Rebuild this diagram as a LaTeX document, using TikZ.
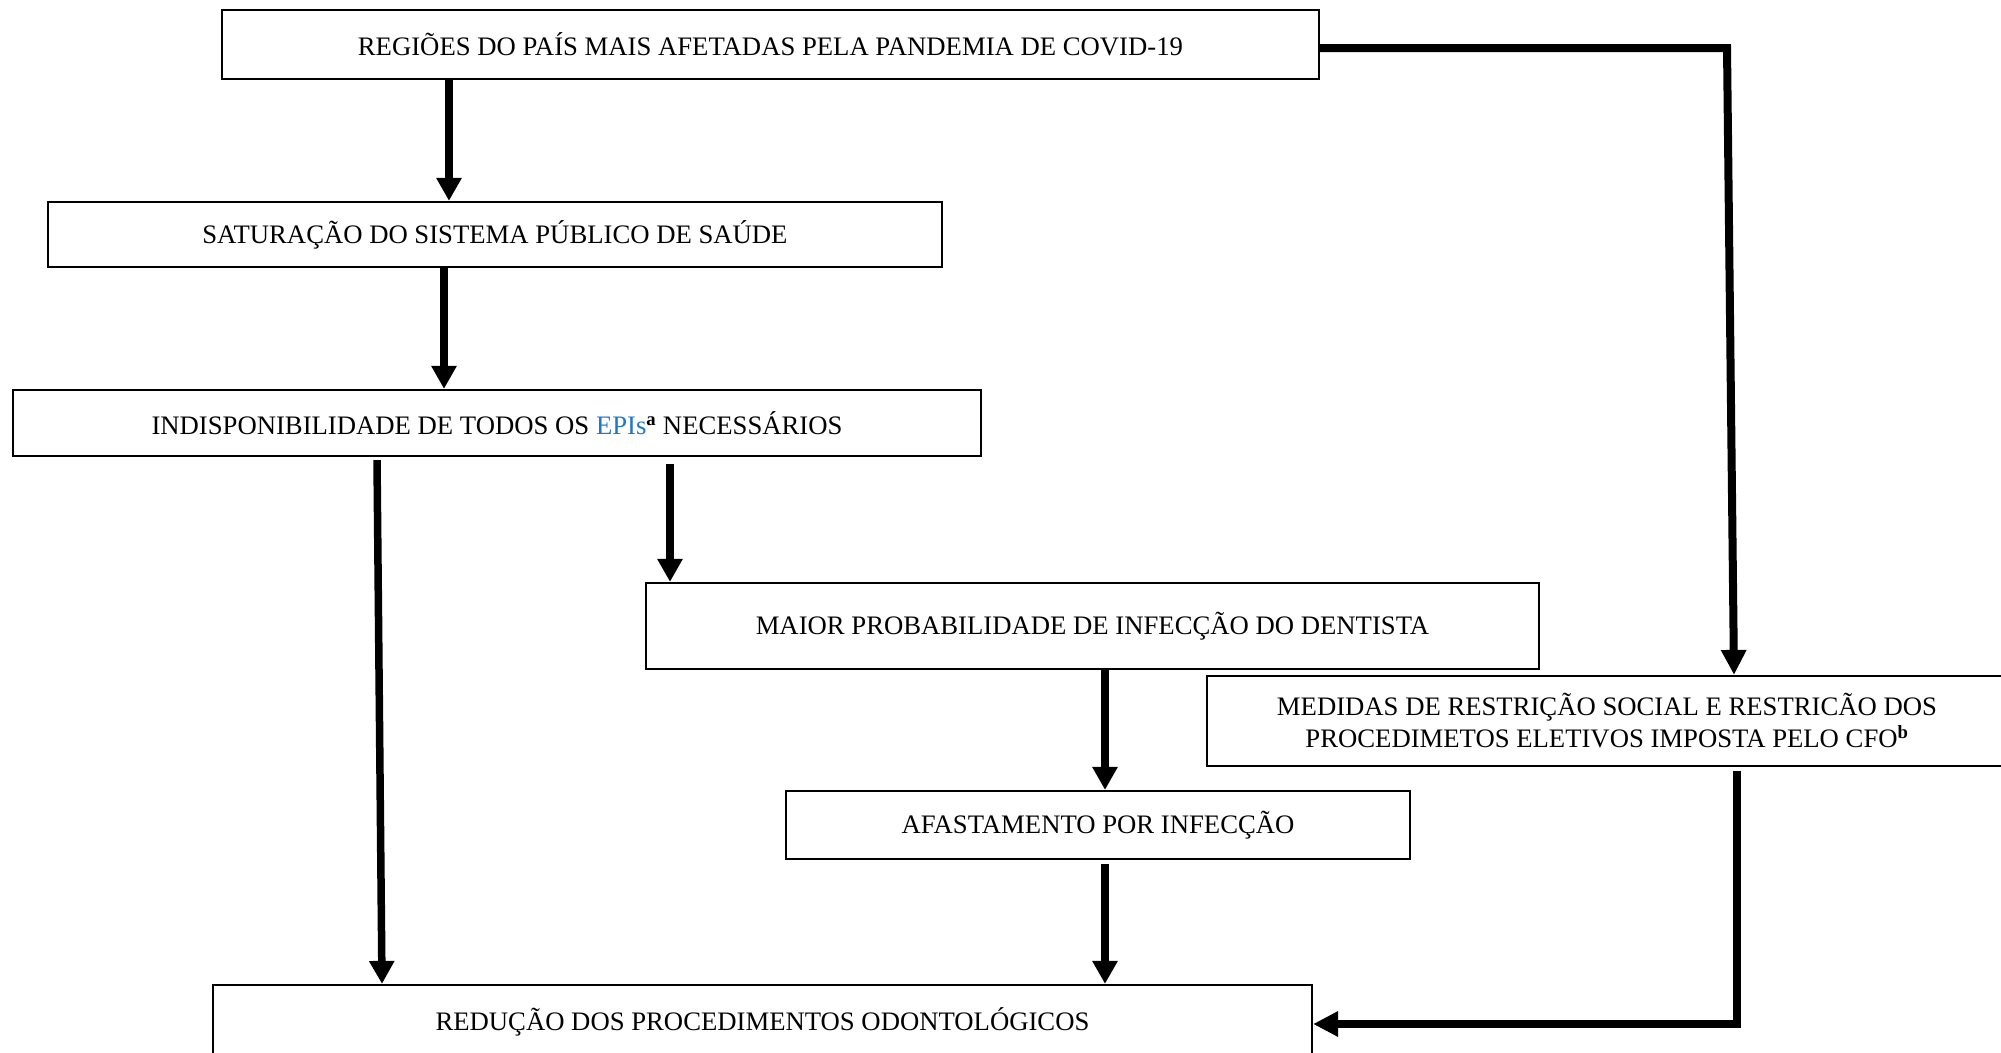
\documentclass[tikz,border=0pt]{standalone}
\usepackage{fontspec}
\setmainfont{Liberation Serif}
\usetikzlibrary{arrows.meta,calc}
\definecolor{epiblue}{RGB}{30,120,200}
\begin{document}
\begin{tikzpicture}[x=1pt,y=-1pt,
  box/.style={draw=black,line width=2.2pt,rectangle,inner sep=0pt,
    font=\fontsize{26.7}{32}\selectfont,align=center},
  arr/.style={line width=7.5pt,-{Triangle[width=24pt,length=23pt]}},
  thickarr/.style={line width=8pt,line join=miter,-{Triangle[width=24pt,length=25pt]}}]
\useasboundingbox (0,0) rectangle (2001,1052);
\fill[white] (0,0) rectangle (2001,1052);
\node[box,minimum width=1097pt,minimum height=69pt] (b1) at (770.5,44.5)
  {REGIÕES DO PAÍS MAIS AFETADAS PELA PANDEMIA DE COVID-19};
\node[box,minimum width=894pt,minimum height=65pt] (b2) at (495,234.5)
  {SATURAÇÃO DO SISTEMA PÚBLICO DE SAÚDE};
\node[box,minimum width=968pt,minimum height=66pt] (b3) at (497,423)
  {INDISPONIBILIDADE DE TODOS OS \textcolor{epiblue}{EPIs}\textsuperscript{\textbf{a}} NECESSÁRIOS};
\node[box,minimum width=893pt,minimum height=86pt] (b4) at (1092.5,626)
  {MAIOR PROBABILIDADE DE INFECÇÃO DO DENTISTA};
\node[box,minimum width=800pt,minimum height=90pt] (b5) at (1607,721)
  {MEDIDAS DE RESTRIÇÃO SOCIAL E RESTRICÃO DOS\\PROCEDIMETOS ELETIVOS IMPOSTA PELO CFO\textsuperscript{\textbf{b}}};
\node[box,minimum width=624pt,minimum height=68pt] (b6) at (1098,825)
  {AFASTAMENTO POR INFECÇÃO};
\node[box,minimum width=1099pt,minimum height=73pt] (b7) at (762.5,1021.5)
  {REDUÇÃO DOS PROCEDIMENTOS ODONTOLÓGICOS};
% reference x positions
\coordinate (xa) at (449,0);
\coordinate (xb) at (444,0);
\coordinate (xc) at (670,0);
\coordinate (xd1) at (377,0);
\coordinate (xd2) at (382,0);
\coordinate (xe) at (1105,0);
\coordinate (c1) at (1727,48);
\coordinate (c2) at (1734,0);
\coordinate (c3) at (1737,0);
\coordinate (c4) at (1737,1024);
% connectors
\draw[arr] (xa |- b1.south) -- (xa |- b2.north);
\draw[arr] (xb |- b2.south) -- (xb |- b3.north);
\draw[arr] ($(xc |- b3.south)+(0,7)$) -- (xc |- b4.north);
\draw[arr] ($(xd1 |- b3.south)+(0,3)$) -- (xd2 |- b7.north);
\draw[arr] (xe |- b4.south) -- (xe |- b6.north);
\draw[arr] ($(xe |- b6.south)+(0,4)$) -- (xe |- b7.north);
\draw[thickarr] (b1.east |- c1) -- (c1) -- (c2 |- b5.north);
\draw[thickarr] ($(c3 |- b5.south)+(0,4)$) -- (c4) -- (b7.east |- c4);
\end{tikzpicture}
\end{document}
